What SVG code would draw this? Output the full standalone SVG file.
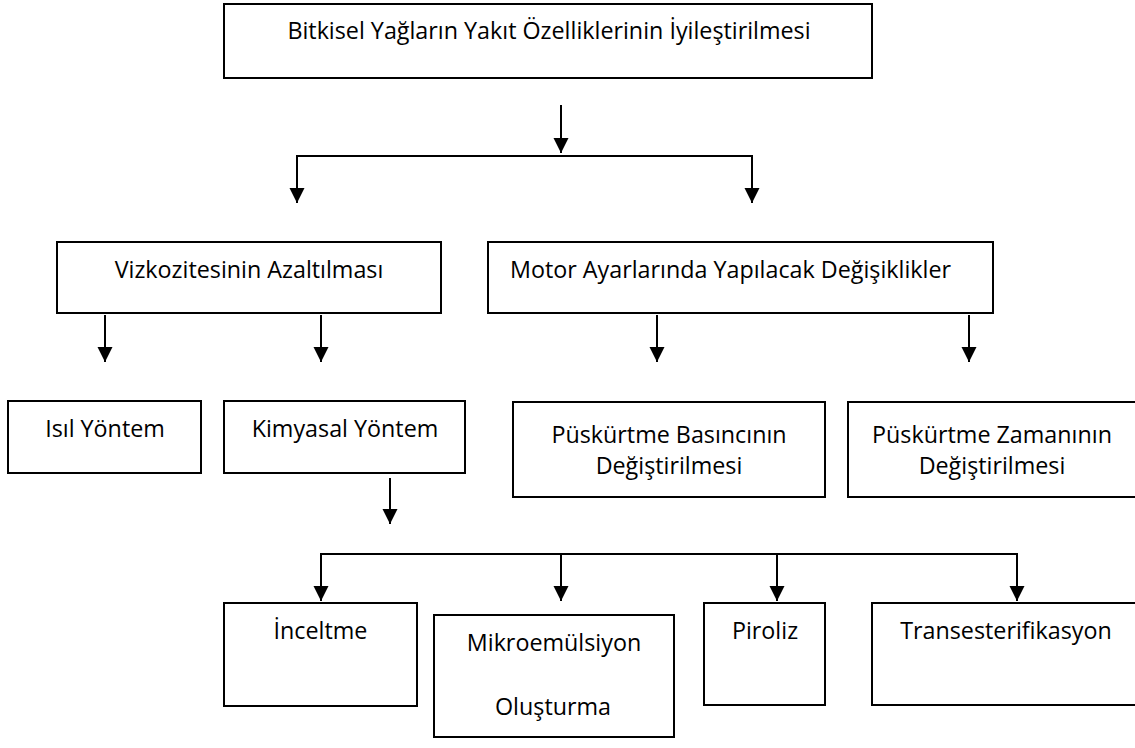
<svg xmlns="http://www.w3.org/2000/svg" width="1135" height="748" viewBox="0 0 1135 748">
<style>
.box{fill:#fff;stroke:#000;stroke-width:2}
.t{font-family:"Open Sans","Liberation Sans",sans-serif;font-size:23.3px;fill:#000;text-anchor:middle}
.c{fill:none;stroke:#000;stroke-width:2}
.a{fill:none;stroke:#000;stroke-width:2;marker-end:url(#ah)}
</style>
<defs>
<marker id="ah" markerUnits="userSpaceOnUse" markerWidth="16" markerHeight="16" viewBox="0 0 16 16" refX="15" refY="8" orient="auto">
<path d="M0,0.5 L15,8 L0,15.5 z" fill="#000"/>
</marker>
</defs>
<rect width="1135" height="748" fill="#fff"/>
<g id="connectors">
<line class="a" x1="561" y1="105" x2="561" y2="153"/>
<polyline class="c" points="297,203 297,156 752,156 752,203"/>
<line class="a" x1="297" y1="158" x2="297" y2="203"/>
<line class="a" x1="752" y1="158" x2="752" y2="203"/>
<line class="a" x1="105" y1="315" x2="105" y2="362"/>
<line class="a" x1="321" y1="315" x2="321" y2="362"/>
<line class="a" x1="657" y1="315" x2="657" y2="362"/>
<line class="a" x1="969" y1="315" x2="969" y2="362"/>
<line class="a" x1="390" y1="478" x2="390" y2="524"/>
<polyline class="c" points="321,590 321,554 1017,554 1017,590"/>
<line class="a" x1="321" y1="556" x2="321" y2="601"/>
<line class="a" x1="561" y1="554" x2="561" y2="601"/>
<line class="a" x1="777" y1="554" x2="777" y2="601"/>
<line class="a" x1="1017" y1="556" x2="1017" y2="601"/>
</g>
<g id="n-root">
<rect class="box" x="224" y="4" width="648" height="74"/>
<text class="t" x="549" y="39">Bitkisel Yağların Yakıt Özelliklerinin İyileştirilmesi</text>
</g>
<g id="n-viskozite">
<rect class="box" x="57" y="242" width="384" height="71"/>
<text class="t" x="249" y="278">Vizkozitesinin Azaltılması</text>
</g>
<g id="n-motor">
<rect class="box" x="488" y="242" width="505" height="71"/>
<text class="t" x="510" y="278" style="text-anchor:start">Motor Ayarlarında Yapılacak Değişiklikler</text>
</g>
<g id="n-isil">
<rect class="box" x="8" y="401" width="193" height="72"/>
<text class="t" x="105" y="437">Isıl Yöntem</text>
</g>
<g id="n-kimyasal">
<rect class="box" x="224" y="401" width="241" height="72"/>
<text class="t" x="345" y="437">Kimyasal Yöntem</text>
</g>
<g id="n-basinc">
<rect class="box" x="513" y="402" width="312" height="95"/>
<text class="t" x="669" y="443">Püskürtme Basıncının</text>
<text class="t" x="669" y="474">Değiştirilmesi</text>
</g>
<g id="n-zaman">
<rect class="box" x="848" y="402" width="290" height="95"/>
<text class="t" x="992" y="443">Püskürtme Zamanının</text>
<text class="t" x="992" y="474">Değiştirilmesi</text>
</g>
<g id="n-inceltme">
<rect class="box" x="224" y="603" width="193" height="103"/>
<text class="t" x="320.5" y="639">İnceltme</text>
</g>
<g id="n-mikro">
<rect class="box" x="434" y="615" width="240" height="122"/>
<text class="t" x="554" y="651">Mikroemülsiyon</text>
<text class="t" x="553" y="715">Oluşturma</text>
</g>
<g id="n-piroliz">
<rect class="box" x="704" y="603" width="121" height="102"/>
<text class="t" x="765" y="639">Piroliz</text>
</g>
<g id="n-trans">
<rect class="box" x="872" y="603" width="268" height="102"/>
<text class="t" x="1006" y="639">Transesterifikasyon</text>
</g>
</svg>
